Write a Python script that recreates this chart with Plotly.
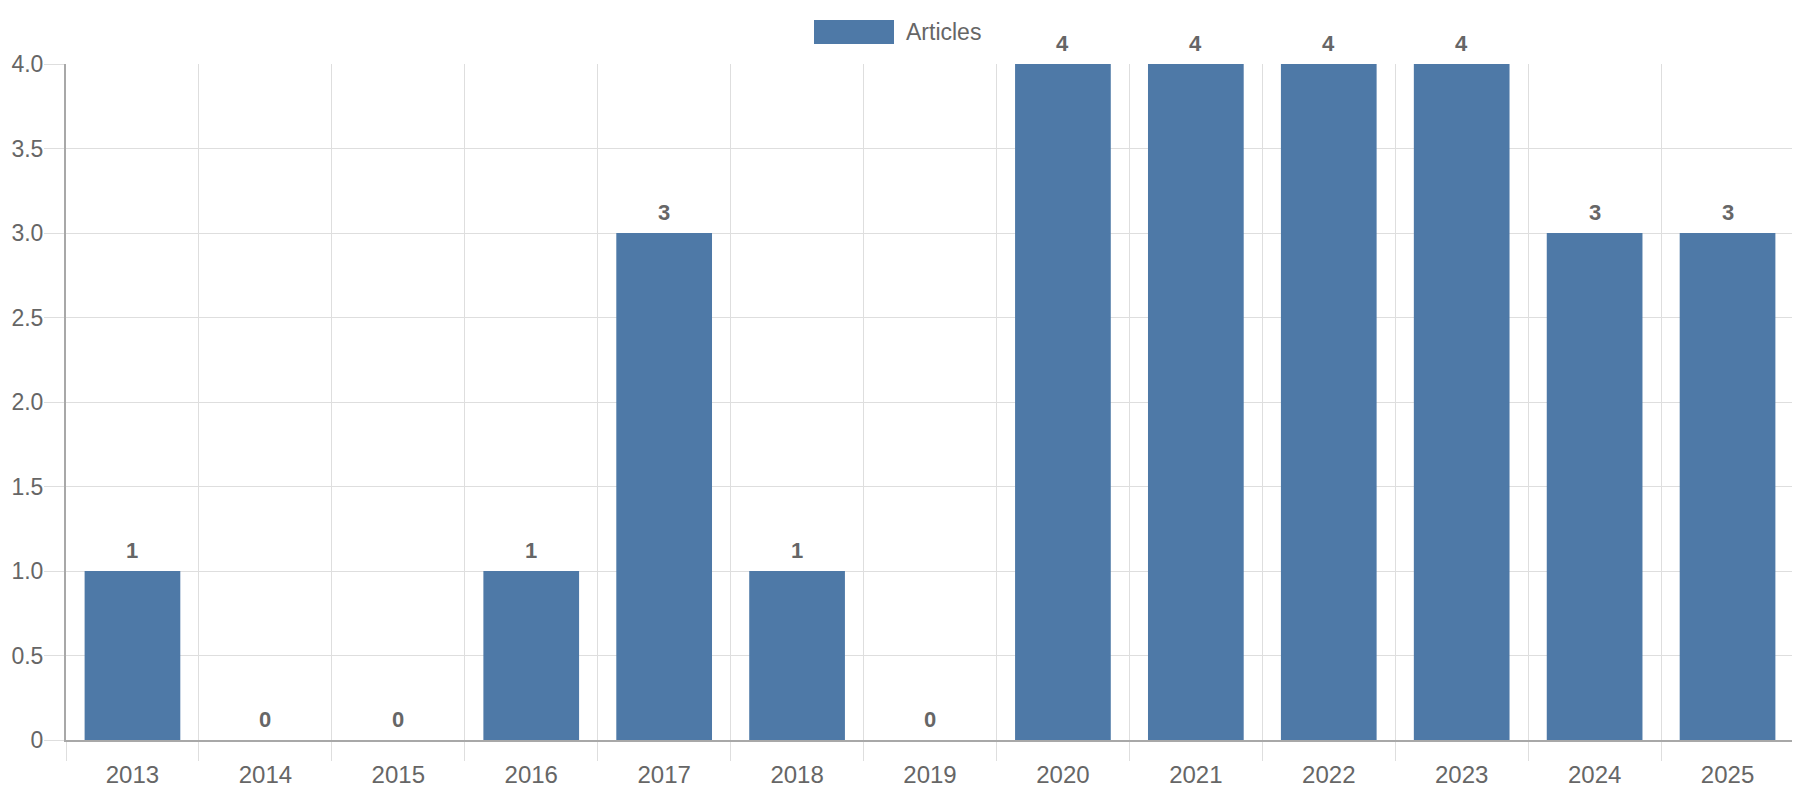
import plotly.graph_objects as go

years = ["2013", "2014", "2015", "2016", "2017", "2018", "2019",
         "2020", "2021", "2022", "2023", "2024", "2025"]
articles = [1, 0, 0, 1, 3, 1, 0, 4, 4, 4, 4, 3, 3]
y_tickvals = [0, 0.5, 1.0, 1.5, 2.0, 2.5, 3.0, 3.5, 4.0]
y_ticktext = ["0", "0.5", "1.0", "1.5", "2.0", "2.5", "3.0", "3.5", "4.0"]
series_name = "Articles"

BAR = "#4e79a7"
TXT = "#666666"
GRID = "#dedede"
AXIS = "#a8a8a8"
FONT = "Liberation Sans, Arial, sans-serif"

fig = go.Figure()
fig.add_trace(go.Bar(
    x=years, y=articles, name=series_name,
    marker=dict(color=BAR, line=dict(width=0)),
    showlegend=False, hoverinfo="x+y",
))

# value labels; on a category axis numeric x means the category index
for i, v in enumerate(articles):
    fig.add_annotation(
        x=i, y=v, xref="x", yref="y", text=f"<b>{v}</b>",
        showarrow=False, yanchor="bottom", yshift=6,
        font=dict(family=FONT, size=22, color=TXT),
    )

# legend drawn manually (wide colour box + label)
fig.add_shape(type="rect", xref="paper", yref="paper",
              x0=(814 - 66) / 1728, x1=(894 - 66) / 1728,
              y0=1 + (64 - 44) / 676, y1=1 + (64 - 20) / 676,
              fillcolor=BAR, line=dict(width=0))
fig.add_annotation(x=(904 - 66) / 1728, y=1 + (64 - 32) / 676,
                   xref="paper", yref="paper", text=series_name,
                   showarrow=False, xanchor="left", yanchor="middle",
                   font=dict(family=FONT, size=23, color=TXT))

# page body has an 8px margin, so the figure is 8px smaller to fit the window
fig.update_layout(
    width=1792, height=792,
    margin=dict(l=58, r=6, t=56, b=60, autoexpand=False),
    paper_bgcolor="white", plot_bgcolor="white",
    bargap=0.28,
    font=dict(family=FONT, size=23, color=TXT),
    showlegend=False,
)
fig.update_xaxes(
    type="category", tickson="boundaries",
    range=[-0.5, len(years) - 0.5],
    showgrid=True, gridcolor=GRID, gridwidth=1,
    ticks="outside", ticklen=19, tickcolor=GRID, tickwidth=1,
    showline=True, linecolor=AXIS, linewidth=2,
    tickfont=dict(family=FONT, size=24, color=TXT),
    ticklabelstandoff=12,
    tickangle=0, zeroline=False, automargin=False,
)
fig.update_yaxes(
    range=[0, 4], tickvals=y_tickvals, ticktext=y_ticktext,
    showgrid=True, gridcolor=GRID, gridwidth=1,
    ticks="outside", ticklen=20, tickcolor=GRID, tickwidth=1,
    showline=True, linecolor=AXIS, linewidth=2,
    tickfont=dict(family=FONT, size=23, color=TXT),
    ticklabelstandoff=-4,
    zeroline=False, fixedrange=True, automargin=False,
)

fig.write_html("out.html")
